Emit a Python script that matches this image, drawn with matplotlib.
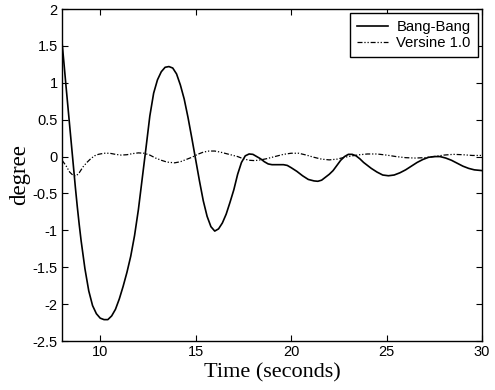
import matplotlib.pyplot as plt
import numpy as np

# Bang-Bang response
bang_t = [8.0, 8.1, 8.2, 8.3, 8.4, 8.5, 8.6, 8.7, 8.8, 8.9, 9.0, 9.2, 9.4, 9.6, 9.8,
          10.0, 10.2, 10.4, 10.6, 10.8, 11.0, 11.2, 11.4, 11.6, 11.8, 12.0, 12.2,
          12.4, 12.6, 12.8, 13.0, 13.2, 13.4, 13.6, 13.8, 14.0, 14.2, 14.4, 14.6,
          14.8, 15.0, 15.2, 15.4, 15.6, 15.8, 16.0, 16.2, 16.4, 16.6, 16.8, 17.0,
          17.2, 17.4, 17.6, 17.8, 18.0, 18.2, 18.4, 18.6, 18.8, 19.0, 19.2, 19.4,
          19.6, 19.8, 20.0, 20.3, 20.6, 20.9, 21.2, 21.4, 21.6, 21.8, 22.0, 22.2,
          22.4, 22.6, 22.8, 23.0, 23.2, 23.4, 23.6, 23.8, 24.0, 24.2, 24.5, 24.8,
          25.1, 25.4, 25.7, 26.0, 26.3, 26.6, 26.9, 27.2, 27.5, 27.8, 28.1, 28.4,
          28.7, 29.0, 29.3, 29.6, 30.0]
bang_y = [1.55, 1.27, 0.98, 0.70, 0.42, 0.14, -0.14, -0.42, -0.68, -0.92, -1.14,
          -1.52, -1.82, -2.02, -2.13, -2.19, -2.21, -2.21, -2.16, -2.07, -1.93,
          -1.76, -1.57, -1.35, -1.07, -0.72, -0.30, 0.12, 0.55, 0.86, 1.04, 1.15,
          1.21, 1.22, 1.20, 1.12, 0.97, 0.78, 0.53, 0.25, -0.04, -0.33, -0.60,
          -0.81, -0.95, -1.01, -0.98, -0.90, -0.78, -0.62, -0.45, -0.24, -0.08,
          0.01, 0.035, 0.03, 0.0, -0.03, -0.07, -0.10, -0.11, -0.11, -0.11, -0.11,
          -0.12, -0.15, -0.20, -0.26, -0.31, -0.33, -0.335, -0.32, -0.28, -0.24,
          -0.19, -0.12, -0.05, 0.0, 0.03, 0.03, 0.01, -0.03, -0.08, -0.12, -0.16,
          -0.21, -0.25, -0.26, -0.25, -0.22, -0.18, -0.13, -0.08, -0.04, -0.01,
          0.0, 0.0, -0.02, -0.05, -0.09, -0.13, -0.16, -0.18, -0.19]

# Versine 1.0 response
vers_t = [8.0, 8.2, 8.4, 8.6, 8.75, 8.9, 9.1, 9.3, 9.5, 9.7, 9.9, 10.2, 10.5, 10.8,
          11.1, 11.4, 11.7, 12.0, 12.3, 12.6, 12.9, 13.2, 13.5, 13.9, 14.2, 14.5,
          14.8, 15.1, 15.4, 15.7, 16.0, 16.3, 16.6, 16.9, 17.2, 17.5, 17.8, 18.1,
          18.4, 18.7, 19.0, 19.3, 19.6, 20.0, 20.4, 20.8, 21.2, 21.6, 22.0, 22.4,
          22.8, 23.2, 23.6, 24.0, 24.5, 25.0, 25.5, 26.0, 26.5, 27.0, 27.5, 28.0,
          28.5, 29.0, 29.5, 30.0]
vers_y = [-0.05, -0.12, -0.21, -0.26, -0.26, -0.22, -0.14, -0.08, -0.03, 0.01,
          0.03, 0.045, 0.045, 0.03, 0.02, 0.025, 0.04, 0.05, 0.045, 0.02, -0.02,
          -0.05, -0.075, -0.085, -0.07, -0.04, -0.01, 0.03, 0.06, 0.075, 0.075,
          0.06, 0.04, 0.02, 0.0, -0.03, -0.05, -0.055, -0.045, -0.03, -0.01, 0.01,
          0.03, 0.045, 0.045, 0.02, -0.01, -0.035, -0.045, -0.035, -0.01, 0.01,
          0.025, 0.035, 0.035, 0.02, 0.0, -0.015, -0.02, -0.015, 0.0, 0.02, 0.03,
          0.025, 0.015, 0.015]

fig = plt.figure(figsize=(4.95, 3.9), dpi=100)
ax = fig.add_axes([0.1253, 0.1256, 0.8484, 0.8513])

ax.plot(bang_t, bang_y, color="black", lw=1.2, label="Bang-Bang")
ax.plot(vers_t, vers_y, color="black", lw=0.9, dashes=(4, 1.5, 1, 1.5, 1, 1.5),
        label="Versine 1.0")

ax.set_xlim(8, 30)
ax.set_ylim(-2.5, 2)
ax.set_xticks([10, 15, 20, 25, 30])
ax.set_yticks(np.arange(-2.5, 2.01, 0.5))
ax.set_yticklabels(["-2.5", "-2", "-1.5", "-1", "-0.5", "0", "0.5", "1", "1.5", "2"])
ax.tick_params(direction="in", length=4, width=0.8, top=True, right=True,
               labelsize=10.5, pad=3)
for lab in ax.get_xticklabels() + ax.get_yticklabels():
    lab.set_fontfamily("Liberation Sans")
for sp in ax.spines.values():
    sp.set_linewidth(1.0)

ax.set_xlabel("Time (seconds)", fontfamily="Liberation Serif", fontsize=16, labelpad=3)
ax.set_ylabel("degree", fontfamily="Liberation Serif", fontsize=16.5, labelpad=2)

leg = ax.legend(loc="upper right", prop={"family": "Liberation Sans", "size": 10.7},
                fancybox=False, edgecolor="black", framealpha=1, borderaxespad=0.3,
                handlelength=2.1, handletextpad=0.55, borderpad=0.45, labelspacing=0.15)
leg.get_frame().set_linewidth(1.0)

fig.savefig("out.png", dpi=100)
